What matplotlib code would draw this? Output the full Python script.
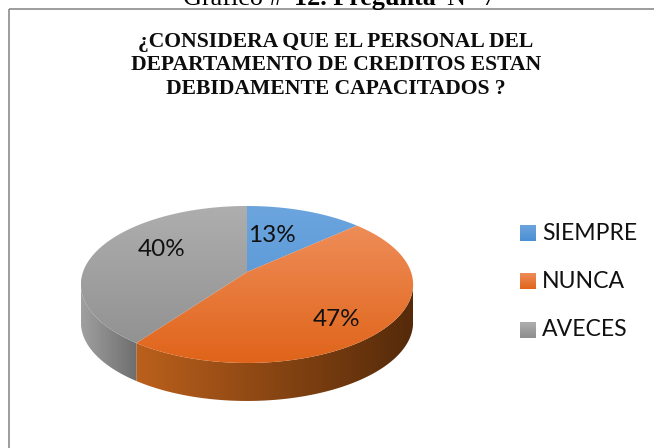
import numpy as np
import matplotlib
matplotlib.use('Agg')
import matplotlib.pyplot as plt
from matplotlib.patches import Polygon, Rectangle

labels = ['SIEMPRE', 'NUNCA', 'AVECES']
values = [13.3, 46.7, 40]
pct_labels = ['13%', '47%', '40%']
pct_pos = [(272, 235.5), (337, 319), (162, 249)]
title = '¿CONSIDERA QUE EL PERSONAL DEL\nDEPARTAMENTO DE CREDITOS ESTAN\nDEBIDAMENTE CAPACITADOS ?'
caption = [('Gráfico # ', 'normal'), ('12. Pregunta ', 'bold'), ('N° 7', 'normal')]

top_colors = [('#6ca5de', '#4a8fd2'), ('#ee8d58', '#e0641a'), ('#aeaeae', '#8e8e8e')]
side_colors = [('#3a6a99', '#3a6a99'), ('#bb601c', '#552a0a'), ('#a0a0a0', '#6e6e6e')]

# pie geometry, in pixels of the figure (perspective look of the 3D pie)
cx, cy = 247, 272
A, B, k = 164, 76.5, 0.159
depth = 38


def project(ang):
    x, y = np.sin(ang), -np.cos(ang)
    den = 1 - k * y
    return cx + A * x / den, cy + B * y / den


def fill_gradient(ax, patch, c1, c2, extent, horizontal=False):
    ax.add_patch(patch)
    c1 = np.array(matplotlib.colors.to_rgb(c1))
    c2 = np.array(matplotlib.colors.to_rgb(c2))
    t = np.linspace(0, 1, 256)[:, None]
    grad = c1 * (1 - t) + c2 * t
    grad = grad[None, :, :] if horizontal else grad[:, None, :]
    im = ax.imshow(grad, extent=extent, aspect='auto', zorder=patch.get_zorder(),
                   interpolation='bilinear')
    im.set_clip_path(patch)


fig = plt.figure(figsize=(6.54, 4.48), dpi=100)
ax = fig.add_axes([0, 0, 1, 1])
ax.axis('off')

# chart frame, runs off the picture on the right and at the bottom
ax.add_patch(Rectangle((8.5, 9.5), 700, 500, fill=False, ec='#8c8c8c', lw=1.2))

# caption of the document, cut by the top of the picture
renderer = fig.canvas.get_renderer()
cap_x = 183
for part, weight in caption:
    t = fig.text(cap_x / 654, 1 - 5 / 448, part, family='Liberation Serif',
                 fontweight=weight, fontsize=18.8, ha='left', va='baseline',
                 color='black')
    # trailing spaces are not measured, so add one by hand
    w = t.get_window_extent(renderer).width
    cap_x += w + (4.6 if part.endswith(' ') else 0)

ax.text(336, 65.5, title, family='Liberation Serif', fontweight='bold',
        fontsize=15.6, ha='center', va='center', linespacing=1.2, color='#0d0d0d')

edges = np.cumsum([0] + values) / sum(values) * 2 * np.pi
xs_all, ys_all = project(np.linspace(0, 2 * np.pi, 721))
left, right = xs_all.min(), xs_all.max()
top, bottom = ys_all.min(), ys_all.max()

# side wall: only the part of the rim that faces the viewer
front_a = np.pi / 2 + 0.16
front_b = 3 * np.pi / 2 - 0.16
for i in range(len(values)):
    a0 = max(edges[i], front_a)
    a1 = min(edges[i + 1], front_b)
    if a1 <= a0:
        continue
    xr, yr = project(np.linspace(a0, a1, 200))
    pts = np.r_[np.c_[xr, yr], np.c_[xr[::-1], yr[::-1] + depth]]
    poly = Polygon(pts, closed=True, fc='none', ec='none', zorder=2)
    c_left, c_right = side_colors[i]
    fill_gradient(ax, poly, c_left, c_right,
                  (xr.min(), xr.max(), bottom + depth, top), horizontal=True)

# top face
for i in range(len(values)):
    xr, yr = project(np.linspace(edges[i], edges[i + 1], 200))
    pts = np.r_[[[cx, cy]], np.c_[xr, yr]]
    poly = Polygon(pts, closed=True, fc='none', ec='none', zorder=3)
    fill_gradient(ax, poly, top_colors[i][0], top_colors[i][1],
                  (left, right, bottom, top if i != 1 else yr.min()))

for txt, (px, py) in zip(pct_labels, pct_pos):
    ax.text(px, py, txt, family='Lato', fontsize=17.5, ha='center', va='center',
            color='#111111', zorder=5)

# legend
for i, (name, ly) in enumerate(zip(labels, [233, 281, 330])):
    sq = Rectangle((520, ly - 8), 16, 16, fc='none', ec='none', zorder=3)
    fill_gradient(ax, sq, top_colors[i][0], top_colors[i][1],
                  (520, 536, ly + 8, ly - 8))
    ax.text(542, ly, name, family='Lato', fontsize=16.6, ha='left', va='center',
            color='#111111')

ax.set_xlim(0, 654)
ax.set_ylim(448, 0)
fig.savefig('out.png', dpi=100)
